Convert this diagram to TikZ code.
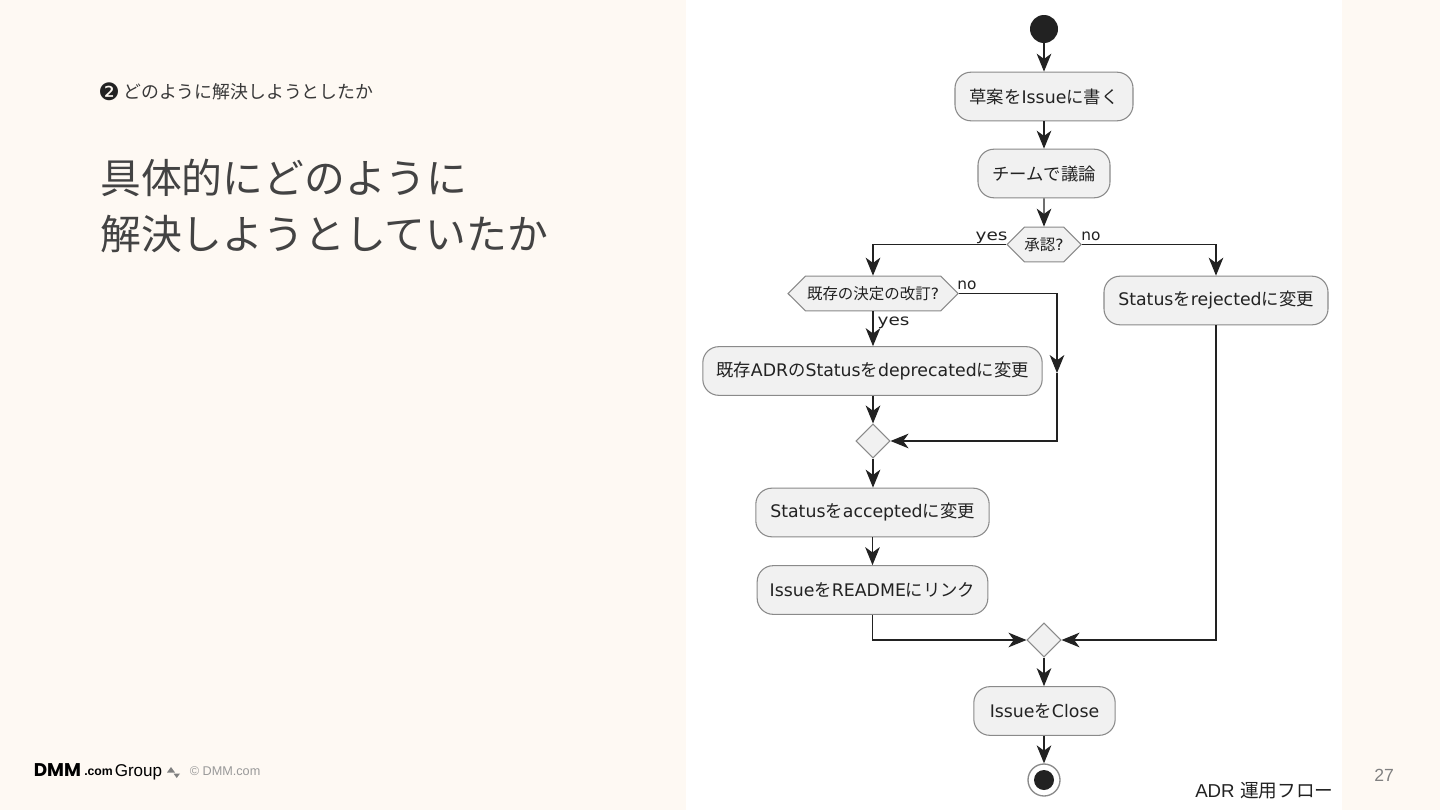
\documentclass[tikz,border=0pt]{standalone}
\usepackage{fontspec}
\setmainfont{DejaVu Sans}
\newfontfamily\jpfont{Noto Sans CJK JP}
\newfontfamily\helv{Liberation Sans}
\newfontfamily\heavy{Poppins}
\newcommand\jt[1]{{\jpfont #1}}
\usetikzlibrary{arrows.meta,shapes.geometric,shapes.symbols}
\definecolor{pagebg}{HTML}{FEF9F3}
\definecolor{nodefill}{HTML}{F1F1F1}
\definecolor{nodeline}{HTML}{8A8A8A}
\definecolor{ink}{HTML}{222222}
\tikzset{
  x=0.75pt,y=-0.75pt,
  activity/.style={draw=nodeline,fill=nodefill,line width=0.8pt,rounded corners=12pt,inner sep=0pt,text=ink,font=\fontsize{13}{15}\selectfont,minimum height=36.5pt},
  choice/.style={draw=nodeline,fill=nodefill,line width=0.8pt,shape=signal,signal to=east and west,signal pointer angle=90,inner sep=0pt,text=ink,font=\fontsize{11.6}{14}\selectfont,minimum height=26pt},
  merge/.style={draw=nodeline,fill=nodefill,line width=0.8pt,shape=diamond,aspect=1,inner sep=0pt,minimum width=25.5pt,minimum height=25.5pt},
  flow/.style={draw=ink,line width=0.9pt,-{Stealth[length=13.5pt,width=11pt,inset=4pt]}},
  edgelabel/.style={text=ink,font=\fontsize{11.5}{14}\selectfont,inner sep=0pt},
  slidetext/.style={inner sep=0pt,text=ink,anchor=west},
}
\begin{document}
\begin{tikzpicture}
\useasboundingbox (0,0) rectangle (1440,810);
\fill[pagebg] (0,0) rectangle (1440,810);
\fill[white] (686,0) rectangle (1342,810);

\node[slidetext,font=\fontsize{18}{20}\selectfont] (sub0) at (98,92) {❷};
\node[slidetext,font=\jpfont\fontsize{13.4}{16}\selectfont,text=ink!90] (sub) at (123,91.5) {どのように解決しようとしたか};
\node[slidetext,font=\jpfont\fontsize{30.6}{36}\selectfont,text=ink!85] (t1) at (100,178) {具体的にどのように};
\node[slidetext,font=\jpfont\fontsize{30.6}{36}\selectfont,text=ink!85] (t2) at (100,234) {解決しようとしていたか};

\node[circle,fill=ink,minimum size=21pt,inner sep=0pt] (start) at (1044,29) {};
\node[activity,minimum width=133.5pt] (a1) at (1044,96.5) {\jt{草案を}Issue\jt{に書く}};
\node[activity,minimum width=99pt] (a2) at (1044,173.5) {\jt{チームで議論}};
\node[choice,minimum width=55.5pt] (q1) at (1044,244.5) {\jt{承認}?};
\node[activity,minimum width=168pt] (rej) at (1216,300.5) {Status\jt{を}rejected\jt{に変更}};
\node[choice,minimum width=127.5pt] (q2) at (873,293.5) {\jt{既存の決定の改訂}?};
\node[activity,minimum width=254.5pt] (dep) at (872.5,371) {\jt{既存}ADR\jt{の}Status\jt{を}deprecated\jt{に変更}};
\node[merge] (m1) at (873,441) {};
\node[activity,minimum width=175pt] (acc) at (872.5,512.5) {Status\jt{を}accepted\jt{に変更}};
\node[activity,minimum width=173pt] (link) at (872.5,590) {Issue\jt{を}README\jt{にリンク}};
\node[merge] (m2) at (1044,640) {};
\node[activity,minimum width=106pt] (close) at (1044.5,711) {Issue\jt{を}Close};
\node[circle,draw=nodeline,fill=white,line width=1pt,minimum size=24pt,inner sep=0pt] (stop) at (1044,780) {};
\node[circle,fill=ink,minimum size=15pt,inner sep=0pt] (stopdot) at (stop.center) {};

\coordinate (mid) at (1057,373);

\draw[flow] (start) -- (a1);
\draw[flow] (a1) -- (a2);
\draw[flow] (a2) -- (q1);
\draw[flow] (q1.west) -| (q2.north);
\draw[flow] (q1.east) -| (rej.north);
\draw[flow] (q2.south) -- (dep.north -| q2.south);
\draw[flow] (q2.east) -| (mid);
\draw[flow] (mid) |- (m1.east);
\draw[flow] (dep.south -| m1.north) -- (m1.north);
\draw[flow] (m1.south) -- (acc.north -| m1.south);
\draw[flow] (acc.south) -- (link.north);
\draw[flow] (link.south) |- (m2.west);
\draw[flow] (rej.south) |- (m2.east);
\draw[flow] (m2.south) -- (close.north -| m2.south);
\draw[flow] (close.south -| stop.north) -- (stop.north);

\node[edgelabel,xscale=1.2] (ly1) at (991.5,237.5) {yes};
\node[edgelabel] (ln1) at (1091,236) {no};
\node[edgelabel] (ln2) at (967,285) {no};
\node[edgelabel,xscale=1.2] (ly2) at (893.5,322.5) {yes};

\node[inner sep=0pt,anchor=west,font=\heavy\bfseries\fontsize{13.8}{15}\selectfont,text=black] (lg1) at (33.5,770.5) {DMM};
\node[inner sep=0pt,anchor=west,font=\helv\bfseries\fontsize{9.2}{13}\selectfont,text=black] (lg2) at (84,772) {.com};
\node[inner sep=0pt,anchor=west,font=\helv\fontsize{12.8}{16}\selectfont,text=black] (lg3) at (114.5,772) {Group};
\fill[gray] (167,772.5) -- (171,767) -- (175,772.5) -- cycle;
\fill[gray] (173.5,773.5) -- (180,773.5) -- (176.7,778) -- cycle;
\node[inner sep=0pt,anchor=west,font=\helv\fontsize{9.5}{12}\selectfont,text=black!40] (copy) at (189.5,771) {© DMM.com};
\node[inner sep=0pt,anchor=west,font=\helv\fontsize{13.2}{16}\selectfont,text=black!50] (page) at (1374,775.5) {27};
\node[inner sep=0pt,anchor=west,font=\helv\fontsize{14}{17}\selectfont,text=ink] (cap) at (1195,790.5) {ADR\hspace{4pt}\jt{運用フロー}};
\end{tikzpicture}
\end{document}
